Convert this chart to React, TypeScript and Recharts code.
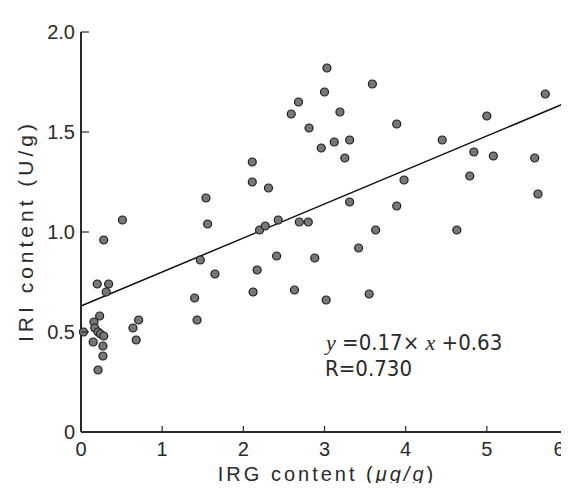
import { ScatterChart, Scatter, XAxis, YAxis, ReferenceLine } from "recharts";

// IRG content (µg/g) vs IRI content (U/g)
const irgContent = [
  0.28, 0.51, 1.54, 1.56, 2.11, 2.11, 2.31, 2.2, 2.27, 2.43, 2.59, 2.68, 2.81, 2.69, 2.8,
  3.03, 3.0, 3.59, 3.19, 3.89, 2.96, 3.12, 3.31, 3.25, 4.45, 5.0, 5.72, 4.84, 5.08, 5.59,
  3.98, 4.79, 5.63, 3.31, 3.89, 3.63, 4.63, 3.42, 2.88, 3.02, 3.55, 1.47, 1.65, 2.17, 2.41,
  2.12, 2.63, 1.4, 1.43, 0.2, 0.34, 0.31, 0.23, 0.16, 0.17, 0.21, 0.24, 0.28, 0.03, 0.15,
  0.27, 0.27, 0.21, 0.71, 0.64, 0.68,
];
const iriContent = [
  0.96, 1.06, 1.17, 1.04, 1.35, 1.25, 1.22, 1.01, 1.03, 1.06, 1.59, 1.65, 1.52, 1.05, 1.05,
  1.82, 1.7, 1.74, 1.6, 1.54, 1.42, 1.45, 1.46, 1.37, 1.46, 1.58, 1.69, 1.4, 1.38, 1.37,
  1.26, 1.28, 1.19, 1.15, 1.13, 1.01, 1.01, 0.92, 0.87, 0.66, 0.69, 0.86, 0.79, 0.81, 0.88,
  0.7, 0.71, 0.67, 0.56, 0.74, 0.74, 0.7, 0.58, 0.55, 0.52, 0.5, 0.49, 0.48, 0.5, 0.45,
  0.43, 0.38, 0.31, 0.56, 0.52, 0.46,
];
const xTicks = [0, 1, 2, 3, 4, 5, 6];
const yTicks = [0, 0.5, 1.0, 1.5, 2.0];

// regression printed on the figure
const slope = 0.17;
const intercept = 0.63;
const fitEnd = 5.95;

const points = irgContent.map((x, i) => ({ x, y: iriContent[i] }));

const FONT = "'Liberation Sans', Arial, sans-serif";
const INK = "#2a2a2a";

function XTick(props: any) {
  const { x, y, payload } = props;
  // last label sits against the right edge, nudge it in so it stays readable
  const tx = payload.value === 6 ? x - 6 : x;
  return (
    <g>
      <line x1={x} y1={y} x2={x} y2={y - 6} stroke={INK} strokeWidth={1.2} />
      <text x={tx} y={y + 17} textAnchor="middle" dominantBaseline="central" fontFamily={FONT} fontSize={20} fill={INK}>
        {payload.value}
      </text>
    </g>
  );
}

function YTick(props: any) {
  const { x, y, payload } = props;
  const v = payload.value;
  return (
    <g>
      <line x1={x} y1={y} x2={x + 8} y2={y} stroke={INK} strokeWidth={1.2} />
      <text x={x - 6} y={y} textAnchor="end" dominantBaseline="central" fontFamily={FONT} fontSize={20} fill={INK}>
        {v === 0 ? "0" : v.toFixed(1)}
      </text>
    </g>
  );
}

function XTitle(props: any) {
  const vb = props.viewBox || { x: 81, y: 432, width: 487, height: 59 };
  return (
    <text x={327} y={vb.y + 42} textAnchor="middle" dominantBaseline="central" fontFamily={FONT} fontSize={20} letterSpacing={3} fill={INK}>
      IRG content (<tspan fontStyle="italic">μg/g</tspan>)
    </text>
  );
}

function YTitle() {
  return (
    <text x={25} y={231} transform="rotate(-90 25 231)" textAnchor="middle" dominantBaseline="central" fontFamily={FONT} fontSize={21} letterSpacing={4} fill={INK}>
      IRI content (U/g)
    </text>
  );
}

function Dot(props: any) {
  return <circle cx={props.cx} cy={props.cy} r={4} fill="#777" stroke="#1e1e1e" strokeWidth={1.2} />;
}

const eqStyle: any = {
  position: "absolute",
  fontFamily: "'Liberation Sans Narrow', 'DejaVu Sans Condensed', 'Liberation Sans', sans-serif",
  fontSize: 22,
  color: INK,
  whiteSpace: "nowrap",
  lineHeight: "26px",
};
const varStyle: any = { fontFamily: "'Liberation Serif', 'DejaVu Serif', serif", fontStyle: "italic" };

export default function App() {
  return (
    <div style={{ position: "relative", width: 569, height: 491, margin: -8, background: "#fff", overflow: "hidden" }}>
      <ScatterChart width={569} height={491} margin={{ top: 32, right: 1, bottom: 0, left: 0 }}>
        <XAxis
          type="number"
          dataKey="x"
          domain={[0, 6]}
          ticks={xTicks}
          tickSize={0}
          tickMargin={0}
          height={59}
          axisLine={{ stroke: INK, strokeWidth: 2 }}
          tickLine={false}
          tick={<XTick />}
          label={<XTitle />}
        />
        <YAxis
          type="number"
          dataKey="y"
          domain={[0, 2]}
          ticks={yTicks}
          tickSize={0}
          tickMargin={0}
          width={81}
          axisLine={{ stroke: INK, strokeWidth: 2 }}
          tickLine={false}
          tick={<YTick />}
          label={<YTitle />}
        />
        <ReferenceLine
          segment={[
            { x: 0, y: intercept },
            { x: fitEnd, y: slope * fitEnd + intercept },
          ]}
          stroke="#111"
          strokeWidth={1.5}
        />
        <Scatter data={points} shape={<Dot />} isAnimationActive={false} />
      </ScatterChart>
      <div style={{ ...eqStyle, left: 326, top: 330 }}>
        <span style={varStyle}>y</span> =0.17× <span style={varStyle}>x</span> +0.63
      </div>
      <div style={{ ...eqStyle, left: 325, top: 356 }}>R=0.730</div>
    </div>
  );
}
